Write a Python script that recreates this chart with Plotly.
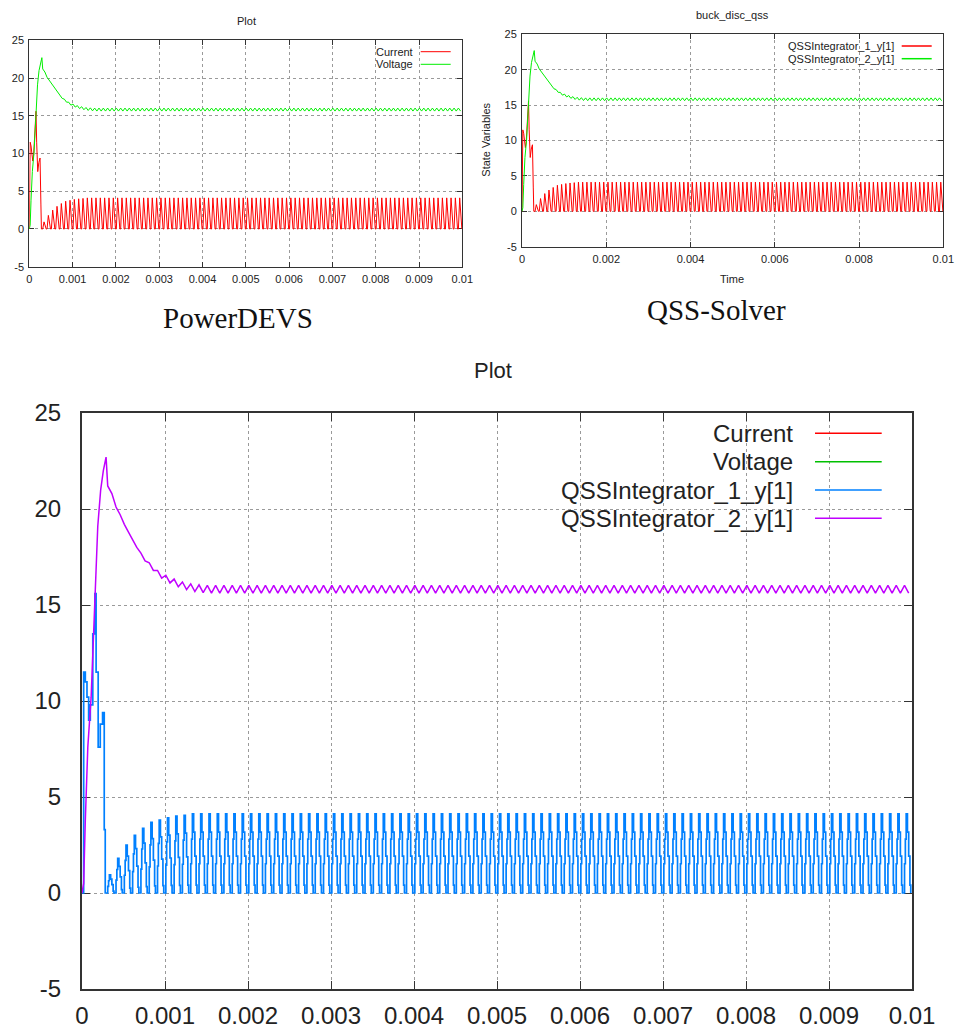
import plotly.graph_objects as go

# ---------------- data ----------------
# start-up transient of the inductor current (A) before the discontinuous cycles
t_transient = [0, 0.00002, 0.00004, 0.00006, 0.00008, 0.0001, 0.00013, 0.000155,
               0.00017, 0.000195, 0.00022, 0.000248, 0.000268, 0.00028]
i_transient = [0, 11.5, 11.0, 10.2, 9.0, 9.8, 13.5, 15.6,
               11.5, 7.6, 8.8, 9.4, 3.3, 0]

# switching cycles (discontinuous conduction): one peak per cycle
switch_period = 0.0001
first_cycle = 0.00031
cycle_peak = [0.94, 1.8, 2.5, 3.0, 3.37, 3.68, 3.8, 3.92, 4.0, 4.05] + [4.12] * 87

# shape of one current cycle (time offset, fraction of the peak)
tri_dt = [0, 0.00003, 0.00008]
tri_frac = [0, 1, 0]
step_dt = [0, 0, 0.00001, 0.00002, 0.000035, 0.00005, 0.000065, 0.000075]
step_frac = [0, 0.37, 0.68, 1.0, 0.77, 0.465, 0.10, 0]

# capacitor voltage (V): start-up rise, then per-cycle mean with ripple
t_v_transient = [0, 0.00002, 0.00004, 0.00007, 0.00011, 0.00015, 0.00019, 0.000225, 0.000257, 0.00029]
v_transient = [0, 0.5, 3.8, 7.6, 10.2, 15.0, 19.1, 21.0, 22.0, 22.7]
v_cycle_mid = [21.0, 19.9, 19.0, 18.2, 17.5, 17.0, 16.6, 16.35, 16.15, 16.0, 15.9, 15.85] + [15.82] * 85
v_ripple = 0.2

x_ticks_1 = [0, 0.001, 0.002, 0.003, 0.004, 0.005, 0.006, 0.007, 0.008, 0.009, 0.01]
x_labels_1 = ["0", "0.001", "0.002", "0.003", "0.004", "0.005", "0.006", "0.007", "0.008", "0.009", "0.01"]
x_ticks_2 = [0, 0.002, 0.004, 0.006, 0.008, 0.01]
x_labels_2 = ["0", "0.002", "0.004", "0.006", "0.008", "0.01"]
y_ticks = [-5, 0, 5, 10, 15, 20, 25]
y_labels = ["-5", "0", "5", "10", "15", "20", "25"]

# ---------------- build series ----------------
def current_series(dts, fracs):
    t, v = list(t_transient), list(i_transient)
    for k, p in enumerate(cycle_peak):
        ts = first_cycle + k * switch_period
        for dt, f in zip(dts, fracs):
            t.append(ts + dt)
            v.append(p * f)
    return t, v

def voltage_series():
    t, v = list(t_v_transient), list(v_transient)
    for k, m in enumerate(v_cycle_mid):
        ts = first_cycle + k * switch_period
        t += [ts, ts + 0.00005]
        v += [m + v_ripple, m - v_ripple]
    return t, v

ti_lin, i_lin = current_series(tri_dt, tri_frac)
ti_step, i_step = current_series(step_dt, step_frac)
tv, vv = voltage_series()

W, H = 955, 1028
def PX(x): return x / W
def PY(y): return 1 - y / H

RED, GREEN = "#ff0000", "#00ee00"
RED3, GREEN3, BLUE3, PURPLE3 = "#ff0000", "#00c000", "#0080ff", "#c000ff"

fig = go.Figure()
# top-left (PowerDEVS)
fig.add_trace(go.Scatter(x=ti_lin, y=i_lin, mode="lines", line=dict(color=RED, width=1), xaxis="x", yaxis="y"))
fig.add_trace(go.Scatter(x=tv, y=vv, mode="lines", line=dict(color=GREEN, width=1), xaxis="x", yaxis="y"))
# top-right (QSS-Solver)
fig.add_trace(go.Scatter(x=ti_lin, y=i_lin, mode="lines", line=dict(color=RED, width=1), xaxis="x2", yaxis="y2"))
fig.add_trace(go.Scatter(x=tv, y=vv, mode="lines", line=dict(color=GREEN, width=1), xaxis="x2", yaxis="y2"))
# bottom (overlay; QSS-Solver curves drawn over the PowerDEVS ones)
fig.add_trace(go.Scatter(x=ti_step, y=i_step, mode="lines", line=dict(color=BLUE3, width=1.7, shape="hv"), xaxis="x3", yaxis="y3"))
fig.add_trace(go.Scatter(x=tv, y=vv, mode="lines", line=dict(color=PURPLE3, width=1.5), xaxis="x3", yaxis="y3"))

FONT = "Liberation Sans, Arial, sans-serif"
GRID = "#9a9a9a"

def xax(dom, anchor, tv_, tt_, fs, tlen, lw, standoff):
    return dict(domain=dom, anchor=anchor, range=[0, 0.01], tickmode="array", tickvals=tv_, ticktext=tt_,
                ticks="inside", ticklen=tlen, tickwidth=1, tickcolor="#333", showline=True, linecolor="#333",
                linewidth=lw, mirror="ticks", showgrid=True, gridcolor=GRID, gridwidth=1, griddash="dot",
                zeroline=False, tickfont=dict(family=FONT, size=fs, color="#222"), automargin=False,
                ticklabelstandoff=standoff, layer="below traces")

def yax(dom, anchor, fs, tlen, lw, standoff):
    return dict(domain=dom, anchor=anchor, range=[-5, 25], tickmode="array", tickvals=y_ticks, ticktext=y_labels,
                ticks="inside", ticklen=tlen, tickwidth=1, tickcolor="#333", showline=True, linecolor="#333",
                linewidth=lw, mirror="ticks", showgrid=True, gridcolor=GRID, gridwidth=1, griddash="dot",
                zeroline=False, tickfont=dict(family=FONT, size=fs, color="#222"), automargin=False,
                ticklabelstandoff=standoff, layer="below traces")

fig.update_layout(
    width=W, height=H, margin=dict(l=0, r=0, t=0, b=0), template="none",
    paper_bgcolor="white", plot_bgcolor="white", showlegend=False,
    xaxis=xax([PX(29.3), PX(462.3)], "y", x_ticks_1, x_labels_1, 11, 5, 1, 2),
    yaxis=yax([PY(266.7), PY(40.3)], "x", 11, 5, 1, 2),
    xaxis2=xax([PX(522), PX(943.3)], "y2", x_ticks_2, x_labels_2, 11, 5, 1, 2),
    yaxis2=yax([PY(246.7), PY(34.3)], "x2", 11, 5, 1, 2),
    xaxis3=xax([PX(82), PX(912)], "y3", x_ticks_1, x_labels_1, 24, 8, 2, 4),
    yaxis3=yax([PY(989), PY(413)], "x3", 24, 8, 2, 14),
)

ann = []
def text(x, y, s, size, family=FONT, xanchor="center", angle=0, color="#222"):
    ann.append(dict(x=PX(x), y=PY(y), xref="paper", yref="paper", text=s, showarrow=False,
                    xanchor=xanchor, yanchor="middle", textangle=angle,
                    font=dict(family=family, size=size, color=color)))

text(246, 20.7, "Plot", 11)
text(732, 15, "buck_disc_qss", 11)
text(485.7, 140, "State Variables", 11, angle=-90)
text(732, 279, "Time", 11)
text(238, 318, "PowerDEVS", 29, family="Liberation Serif, Times New Roman, serif", color="#111")
text(716, 310, "QSS-Solver", 29, family="Liberation Serif, Times New Roman, serif", color="#111")
text(493, 370, "Plot", 22)

shapes = []
def legend_row(xr, y, label, color, size, x0, x1, lw):
    text(xr, y, label, size, xanchor="right")
    shapes.append(dict(type="line", xref="paper", yref="paper", x0=PX(x0), x1=PX(x1), y0=PY(y), y1=PY(y),
                       line=dict(color=color, width=lw)))

legend_row(415, 51.7, "Current", RED, 11, 420.7, 450.7, 1)
legend_row(415, 64.3, "Voltage", GREEN, 11, 420.7, 450.7, 1)
legend_row(895.7, 46, "QSSIntegrator_1_y[1]", RED, 11, 901.7, 931.7, 1.5)
legend_row(895.7, 58.7, "QSSIntegrator_2_y[1]", GREEN, 11, 901.7, 931.7, 1.5)
legend_row(795, 433.3, "Current", RED3, 24, 815, 881.7, 1.5)
legend_row(795, 461.7, "Voltage", GREEN3, 24, 815, 881.7, 1.5)
legend_row(795, 490, "QSSIntegrator_1_y[1]", BLUE3, 24, 815, 881.7, 1.5)
legend_row(795, 518.3, "QSSIntegrator_2_y[1]", PURPLE3, 24, 815, 881.7, 1.5)

fig.update_layout(annotations=ann, shapes=shapes)
fig.write_html("out.html")
